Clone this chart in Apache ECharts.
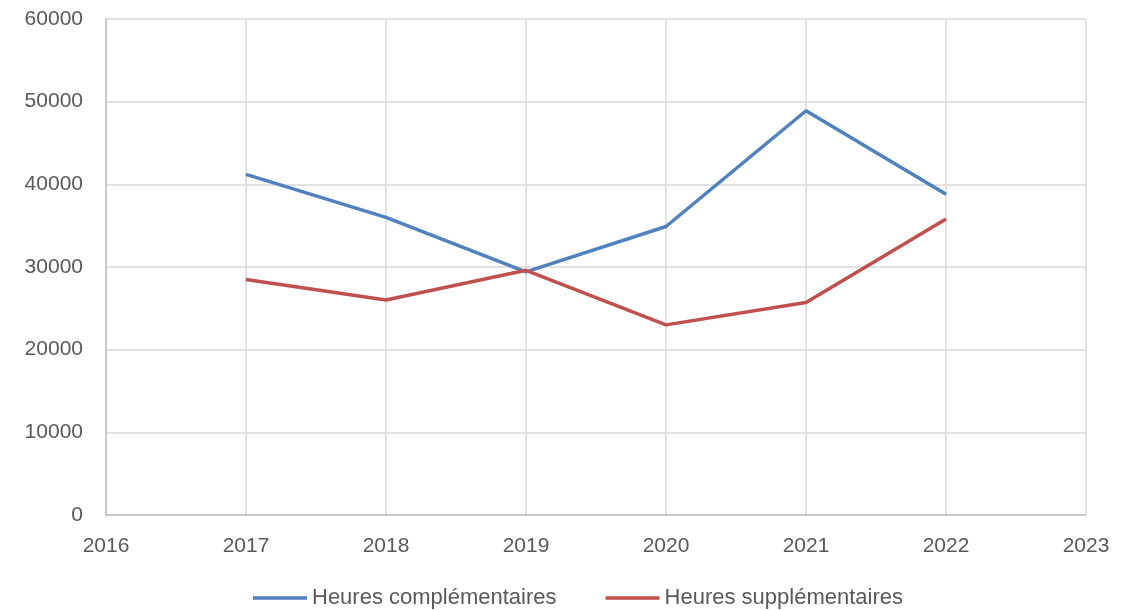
<!DOCTYPE html>
<html>
<head>
<meta charset="utf-8">
<script src="https://cdn.jsdelivr.net/npm/echarts@6/dist/echarts.min.js"></script>
<style>
  html, body { margin: 0; padding: 0; background: #fff; }
  #chart { width: 1126px; height: 610px; }
</style>
</head>
<body>
<div id="chart"></div>
<script>
// Years on the x axis
const years = [2017, 2018, 2019, 2020, 2021, 2022];
// Hours per year
const heuresComplementaires = [41200, 36000, 29400, 34900, 48900, 38800];
const heuresSupplementaires = [28500, 26000, 29600, 23000, 25700, 35800];
const seriesNames = ['Heures complémentaires', 'Heures supplémentaires'];

const pairs = (vals) => years.map((y, i) => [y, vals[i]]);
const plain = (v) => String(v);

const font = 'Liberation Sans';
const chart = echarts.init(document.getElementById('chart'));
chart.setOption({
  animation: false,
  grid: { left: 106, right: 40, top: 19, bottom: 95 },
  xAxis: {
    type: 'value', min: 2016, max: 2023, interval: 1,
    axisLine: { show: true, lineStyle: { color: '#bfbfbf', width: 1.5 } },
    axisTick: { show: false },
    splitLine: { show: true, lineStyle: { color: '#d9d9d9', width: 1.5 } },
    axisLabel: { color: '#595959', fontFamily: font, fontSize: 21, margin: 21, formatter: plain }
  },
  yAxis: {
    type: 'value', min: 0, max: 60000, interval: 10000,
    axisLine: { show: true, lineStyle: { color: '#bfbfbf', width: 1.5 } },
    axisTick: { show: false },
    splitLine: { show: true, lineStyle: { color: '#d9d9d9', width: 1.5 } },
    axisLabel: { color: '#595959', fontFamily: font, fontSize: 21, margin: 23, formatter: plain }
  },
  legend: {
    top: 587, left: 248, padding: [0, 5],
    icon: 'rect', itemWidth: 54, itemHeight: 3.5, itemGap: 49,
    textStyle: { color: '#595959', fontFamily: font, fontSize: 22 },
    data: seriesNames
  },
  series: [
    {
      name: seriesNames[0], type: 'line', symbol: 'none',
      data: pairs(heuresComplementaires),
      lineStyle: { color: '#4f81bd', width: 3.5 }, itemStyle: { color: '#4f81bd' }
    },
    {
      name: seriesNames[1], type: 'line', symbol: 'none',
      data: pairs(heuresSupplementaires),
      lineStyle: { color: '#c0504d', width: 3.5 }, itemStyle: { color: '#c0504d' }
    }
  ]
});
</script>
</body>
</html>
